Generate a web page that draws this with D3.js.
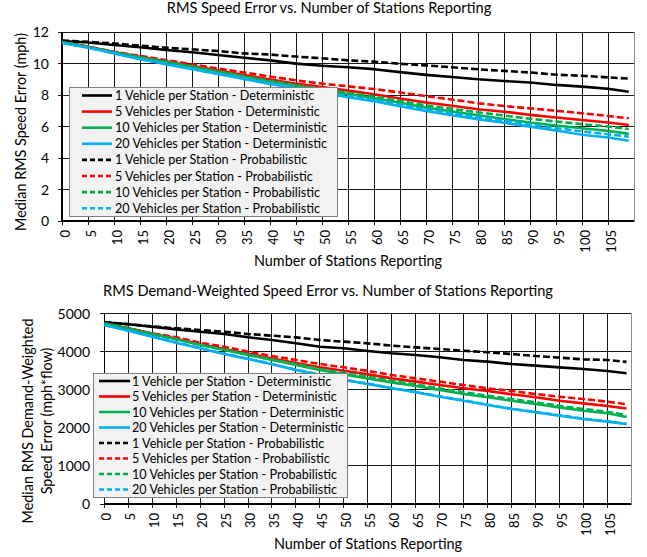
<!DOCTYPE html>
<html><head><meta charset="utf-8">
<script src="https://cdn.jsdelivr.net/npm/d3@7"></script>
<style>
body{margin:0;background:#fff;}
svg{display:block;font-family:Lato,"Open Sans",sans-serif;}
</style>
</head><body>
<svg id="c" width="647" height="557"></svg>
<script>
// ---------- DATA ----------
const stations = [0,5,10,15,20,25,30,35,40,45,50,55,60,65,70,75,80,85,90,95,100,105,109];
const xTickValues = [0,5,10,15,20,25,30,35,40,45,50,55,60,65,70,75,80,85,90,95,100,105];
const seriesNames = [
  "1 Vehicle per Station - Deterministic",
  "5 Vehicles per Station - Deterministic",
  "10 Vehicles per Station - Deterministic",
  "20 Vehicles per Station - Deterministic",
  "1 Vehicle per Station - Probabilistic",
  "5 Vehicles per Station - Probabilistic",
  "10 Vehicles per Station - Probabilistic",
  "20 Vehicles per Station - Probabilistic"
];
const seriesColors = ["#000000","#ff0000","#00b050","#00b0f0","#000000","#ff0000","#00b050","#00b0f0"];
const seriesDashed = [false,false,false,false,true,true,true,true];

// Chart 1: RMS speed error (mph)
const speedYTicks = [0,2,4,6,8,10,12];
const speed1Det  = [11.43,11.33,11.17,11.03,10.86,10.71,10.54,10.37,10.20,9.99,9.86,9.76,9.64,9.45,9.28,9.14,9.00,8.89,8.79,8.64,8.53,8.40,8.21];
const speed5Det  = [11.37,11.06,10.73,10.42,10.14,9.85,9.55,9.27,8.98,8.72,8.50,8.28,8.05,7.78,7.52,7.32,7.10,6.94,6.74,6.57,6.41,6.25,6.10];
const speed10Det = [11.37,11.05,10.72,10.39,10.11,9.80,9.48,9.16,8.86,8.58,8.32,8.06,7.80,7.51,7.20,6.95,6.71,6.48,6.25,6.06,5.89,5.72,5.53];
const speed20Det = [11.30,11.00,10.64,10.27,9.95,9.63,9.33,9.02,8.70,8.42,8.14,7.86,7.60,7.29,6.98,6.72,6.47,6.24,5.99,5.75,5.48,5.30,5.10];
const speed1Prob = [11.46,11.38,11.27,11.13,11.00,10.90,10.79,10.64,10.57,10.44,10.33,10.20,10.12,9.98,9.88,9.76,9.63,9.53,9.43,9.29,9.22,9.12,9.04];
const speed5Prob = [11.37,11.07,10.75,10.48,10.22,9.95,9.68,9.43,9.17,8.93,8.72,8.55,8.38,8.16,7.93,7.71,7.48,7.30,7.15,7.00,6.84,6.67,6.52];
const speed10Prob= [11.37,11.05,10.72,10.40,10.12,9.81,9.50,9.20,8.90,8.62,8.38,8.14,7.89,7.62,7.34,7.12,6.90,6.70,6.49,6.32,6.15,6.00,5.84];
const speed20Prob= [11.32,11.02,10.67,10.30,9.98,9.66,9.36,9.06,8.75,8.47,8.20,7.93,7.68,7.38,7.09,6.84,6.60,6.37,6.12,5.90,5.69,5.51,5.35];

// Chart 2: RMS demand-weighted speed error (mph*flow)
const demandYTicks = [0,1000,2000,3000,4000,5000];
const demand1Det  = [4770,4716,4654,4584,4523,4462,4375,4304,4217,4129,4086,4016,3955,3911,3850,3780,3736,3675,3631,3587,3543,3491,3430];
const demand5Det  = [4742,4611,4470,4340,4195,4070,3945,3820,3700,3587,3499,3403,3298,3211,3123,3036,2966,2879,2800,2712,2642,2572,2505];
const demand10Det = [4742,4611,4462,4323,4173,4042,3911,3780,3648,3517,3403,3298,3193,3097,2992,2887,2800,2712,2625,2537,2449,2380,2285];
const demand20Det = [4698,4549,4392,4234,4086,3937,3806,3666,3517,3386,3255,3150,3036,2931,2817,2712,2598,2493,2406,2318,2231,2161,2100];
const demand1Prob = [4770,4720,4660,4611,4567,4523,4462,4418,4374,4304,4261,4217,4156,4112,4068,4024,3981,3937,3885,3841,3797,3780,3730];
const demand5Prob = [4742,4611,4480,4375,4234,4129,3998,3885,3780,3675,3587,3491,3386,3298,3211,3123,3036,2966,2887,2817,2756,2686,2620];
const demand10Prob= [4742,4611,4465,4330,4180,4055,3925,3795,3670,3545,3440,3340,3235,3140,3035,2930,2845,2755,2670,2580,2495,2420,2330];
const demand20Prob= [4700,4555,4398,4240,4092,3945,3812,3675,3525,3395,3265,3160,3045,2940,2828,2722,2608,2503,2415,2328,2240,2170,2105];

// ---------- DRAW ----------
const svg = d3.select("#c");

function drawChart(cfg){
  const g = svg.append("g");
  const x = d3.scaleLinear().domain([0,110]).range([cfg.left, cfg.right]);
  const y = d3.scaleLinear().domain([0, cfg.yMax]).range([cfg.bottom, cfg.top]);

  g.append("rect").attr("x",cfg.left).attr("y",cfg.top)
    .attr("width",cfg.right-cfg.left).attr("height",cfg.bottom-cfg.top)
    .attr("fill","#fff").attr("stroke","#8c8c8c").attr("stroke-width",1)
    .attr("shape-rendering","crispEdges");

  g.append("g").selectAll("line").data(cfg.xTicks).join("line")
    .attr("x1",d=>x(d)).attr("x2",d=>x(d)).attr("y1",cfg.top).attr("y2",cfg.bottom+4)
    .attr("stroke","#1a1a1a").attr("stroke-width",1).attr("shape-rendering","crispEdges");
  g.append("g").selectAll("line").data(cfg.yTicks).join("line")
    .attr("x1",cfg.left-4).attr("x2",cfg.right).attr("y1",d=>y(d)).attr("y2",d=>y(d))
    .attr("stroke","#1a1a1a").attr("stroke-width",1).attr("shape-rendering","crispEdges");

  g.append("line").attr("x1",cfg.left).attr("x2",cfg.left).attr("y1",cfg.top).attr("y2",cfg.bottom)
    .attr("stroke","#000").attr("stroke-width",1.3).attr("shape-rendering","crispEdges");
  g.append("line").attr("x1",cfg.left).attr("x2",cfg.right).attr("y1",cfg.bottom).attr("y2",cfg.bottom)
    .attr("stroke","#000").attr("stroke-width",1.3).attr("shape-rendering","crispEdges");

  g.append("g").selectAll("text").data(cfg.yTicks).join("text")
    .attr("x",cfg.yLabelX).attr("y",d=>y(d)).attr("dy","0.36em")
    .attr("text-anchor","end").attr("font-size",cfg.yTickFont).attr("fill","#000")
    .text(d=>d);
  g.append("g").selectAll("text").data(cfg.xTicks).join("text")
    .attr("transform",d=>`translate(${x(d)+cfg.xLabelDx},${cfg.xLabelY}) rotate(-90)`)
    .attr("dy","0.36em").attr("text-anchor","end")
    .attr("font-size",cfg.tickFont).attr("fill","#000").text(d=>d);

  const line = d3.line().x((d,i)=>x(stations[i])).y(d=>y(d));
  cfg.series.forEach((vals,i)=>{
    g.append("path").datum(vals).attr("d",line)
      .attr("fill","none").attr("stroke",seriesColors[i]).attr("stroke-width",2.6)
      .attr("stroke-linejoin","round")
      .attr("stroke-dasharray",seriesDashed[i]?"7,3":null);
  });

  g.append("text").attr("x",cfg.titleX).attr("y",cfg.titleY).attr("text-anchor","middle")
    .attr("font-size",cfg.titleFont).attr("fill","#000").text(cfg.title);
  g.append("text").attr("x",cfg.xTitleX).attr("y",cfg.xTitleY).attr("text-anchor","middle")
    .attr("font-size",cfg.axisFont).attr("fill","#000").text("Number of Stations Reporting");
  cfg.yTitle.forEach((t,k)=>{
    g.append("text").attr("transform",`translate(${cfg.yTitleX[k]},${cfg.yTitleY}) rotate(-90)`)
      .attr("text-anchor","middle").attr("dy","0.36em")
      .attr("font-size",cfg.axisFont).attr("fill","#000").text(t);
  });

  const L = cfg.legend;
  const lg = g.append("g");
  lg.append("rect").attr("x",L.x).attr("y",L.y).attr("width",L.w).attr("height",L.h)
    .attr("fill","#f2f2f2").attr("stroke","#7f7f7f").attr("stroke-width",1)
    .attr("shape-rendering","crispEdges");
  seriesNames.forEach((n,i)=>{
    const yy = L.row0 + i*L.step;
    lg.append("line").attr("x1",L.s0).attr("x2",L.s1).attr("y1",yy).attr("y2",yy)
      .attr("stroke",seriesColors[i]).attr("stroke-width",2.6)
      .attr("stroke-dasharray",seriesDashed[i]?"5,3":null);
    lg.append("text").attr("x",L.tx).attr("y",yy).attr("dy","0.36em")
      .attr("font-size",L.font).attr("fill","#000").text(n);
  });
}

drawChart({
  left:62, right:634, top:32, bottom:221, yMax:12,
  xTicks:xTickValues, yTicks:speedYTicks,
  yLabelX:49, xLabelY:230, xLabelDx:3, tickFont:13, yTickFont:14,
  series:[speed1Det,speed5Det,speed10Det,speed20Det,speed1Prob,speed5Prob,speed10Prob,speed20Prob],
  title:"RMS Speed Error vs. Number of Stations Reporting", titleX:329, titleY:13, titleFont:14.6,
  xTitleX:348, xTitleY:266, axisFont:14.4,
  yTitle:["Median RMS Speed Error (mph)"], yTitleX:[21], yTitleY:132,
  legend:{x:69,y:87,w:268,h:129,row0:95.5,step:16.1,s0:82,s1:112,tx:115,font:12.6}
});

drawChart({
  left:104.3, right:631.3, top:313.5, bottom:504, yMax:5000,
  xTicks:xTickValues, yTicks:demandYTicks,
  yLabelX:90, xLabelY:513, xLabelDx:2.5, tickFont:13, yTickFont:14,
  series:[demand1Det,demand5Det,demand10Det,demand20Det,demand1Prob,demand5Prob,demand10Prob,demand20Prob],
  title:"RMS Demand-Weighted Speed Error vs. Number of Stations Reporting", titleX:328, titleY:296, titleFont:14.6,
  xTitleX:368, xTitleY:549, axisFont:14.4,
  yTitle:["Median RMS Demand-Weighted","Speed Error (mph*flow)"], yTitleX:[28,47], yTitleY:421,
  legend:{x:93,y:373,w:254,h:124,row0:381,step:15.5,s0:99,s1:130,tx:132,font:12.6}
});
</script>
</body></html>
